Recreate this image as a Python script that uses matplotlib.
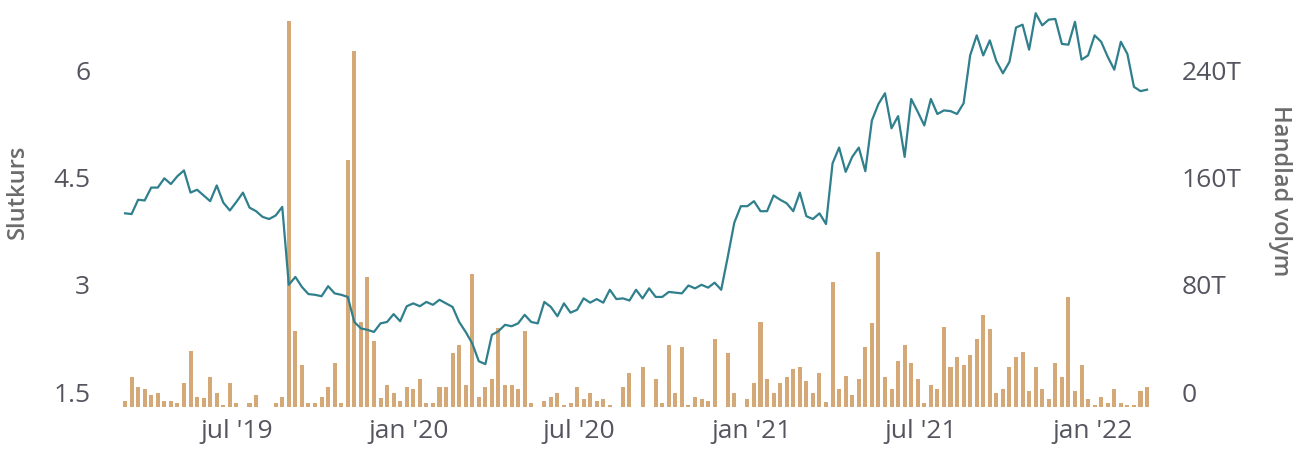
import numpy as np
import pandas as pd
import matplotlib
matplotlib.use('Agg')
import matplotlib.pyplot as plt
import matplotlib.transforms as mtransforms

# Weekly data, Mar 2019 - Feb 2022
weeks = pd.date_range('2019-03-04', periods=157, freq='7D')

# Closing price (Slutkurs)
slutkurs = [
    4.21, 4.20, 4.40, 4.39, 4.57, 4.57, 4.70, 4.62, 4.73, 4.81,
    4.50, 4.54, 4.46, 4.38, 4.60, 4.36, 4.25, 4.37, 4.50, 4.29,
    4.24, 4.16, 4.13, 4.18, 4.30, 3.21, 3.32, 3.18, 3.08, 3.07,
    3.05, 3.19, 3.09, 3.07, 3.04, 2.69, 2.60, 2.58, 2.55, 2.67,
    2.69, 2.80, 2.70, 2.91, 2.95, 2.91, 2.97, 2.93, 3.00, 2.95,
    2.90, 2.69, 2.55, 2.39, 2.14, 2.10, 2.51, 2.56, 2.65, 2.63,
    2.67, 2.79, 2.69, 2.67, 2.97, 2.90, 2.77, 2.95, 2.82, 2.86,
    3.02, 2.96, 3.01, 2.96, 3.14, 3.01, 3.02, 2.99, 3.14, 3.02,
    3.16, 3.04, 3.04, 3.11, 3.10, 3.09, 3.20, 3.16, 3.21, 3.17,
    3.24, 3.14, 3.60, 4.08, 4.31, 4.31, 4.38, 4.24, 4.24, 4.46,
    4.40, 4.35, 4.24, 4.50, 4.17, 4.13, 4.21, 4.06, 4.91, 5.13,
    4.79, 5.00, 5.13, 4.80, 5.51, 5.74, 5.89, 5.40, 5.57, 5.00,
    5.81, 5.63, 5.44, 5.81, 5.60, 5.65, 5.64, 5.60, 5.75, 6.42,
    6.70, 6.42, 6.63, 6.34, 6.17, 6.33, 6.81, 6.85, 6.50, 7.01,
    6.84, 6.92, 6.93, 6.58, 6.57, 6.89, 6.36, 6.42, 6.70, 6.61,
    6.40, 6.22, 6.61, 6.44, 5.98, 5.92, 5.94,
]

# Traded volume (Handlad volym), in thousands (T)
volym = [
    4.7, 22.6, 15.1, 13.4, 8.9, 10.7, 4.7, 4.7, 3.2, 18.1,
    42.0, 7.7, 6.5, 22.6, 10.7, 1.5, 18.1, 3.2, 0, 3.2,
    8.9, 0, 0, 3.2, 7.7, 288.4, 56.6, 31.3, 3.2, 3.2,
    7.7, 15.1, 33.0, 3.2, 184.1, 265.6, 63.6, 96.7, 49.2, 6.5,
    16.4, 10.7, 4.7, 14.9, 13.4, 20.9, 3.0, 3.0, 14.9, 14.9,
    40.2, 46.2, 16.4, 99.5, 7.5, 14.9, 20.9, 58.7, 16.4, 16.4,
    13.4, 56.6, 3.0, 0, 4.5, 7.5, 10.2, 1.5, 2.8, 15.1,
    6.0, 10.2, 4.7, 6.0, 1.5, 0, 15.1, 25.6, 0, 29.6,
    0, 21.1, 2.8, 46.2, 10.7, 44.5, 1.5, 7.7, 6.0, 4.7,
    50.7, 0, 40.0, 10.7, 0, 6.0, 17.7, 63.6, 20.9, 10.7,
    17.7, 22.6, 28.3, 29.6, 19.6, 10.7, 25.6, 3.5, 93.4, 13.4,
    23.5, 8.9, 20.9, 44.5, 62.4, 115.7, 22.1, 13.4, 34.3, 46.2,
    33.0, 20.9, 3.2, 16.4, 13.4, 59.4, 29.6, 37.0, 31.3, 38.8,
    50.7, 68.6, 57.9, 10.2, 13.4, 29.6, 37.0, 41.2, 11.9, 29.6,
    13.4, 5.7, 33.0, 22.6, 81.8, 11.9, 31.3, 5.7, 1.5, 7.7,
    3.2, 13.4, 3.2, 1.5, 1.5, 11.9, 15.1,
]

xtick_dates = pd.to_datetime(['2019-07-01', '2020-01-01', '2020-07-01',
                              '2021-01-01', '2021-07-01', '2022-01-01'])
xtick_labels = ["jul '19", "jan '20", "jul '20", "jan '21", "jul '21", "jan '22"]
left_ticks = [1.5, 3, 4.5, 6]
left_labels = ['1.5', '3', '4.5', '6']
right_ticks = [0, 80, 160, 240]
right_labels = ['0', '80T', '160T', '240T']

line_color = '#2f7f8d'
bar_color = '#d4a877'
label_color = '#555560'
title_color = '#6b6b6b'
font = 'Open Sans'

fig = plt.figure(figsize=(13.04, 4.54), dpi=100)
ax = fig.add_axes([118 / 1304, 1 - 407 / 454, (1155 - 118) / 1304, (407 - 5) / 454])
ax2 = ax.twinx()

# bars on the right axis, line on top
ax2.bar(weeks, volym, width=4.3, color=bar_color, linewidth=0)
ax.plot(weeks, slutkurs, color=line_color, linewidth=1.6)
ax.set_zorder(ax2.get_zorder() + 1)
ax.patch.set_visible(False)

ax2.set_ylim(0, 300)
ax.set_ylim(1.5, 1.5 + 300 * 1.5 / 80)
ax.set_xlim(weeks[0] - pd.Timedelta(days=7.5), weeks[-1] + pd.Timedelta(days=8.5))

for a in (ax, ax2):
    for s in a.spines.values():
        s.set_visible(False)
    a.tick_params(length=0)

ax.set_xticks(xtick_dates)
ax.set_xticklabels(xtick_labels, fontsize=19, color=label_color, family=font)
ax.tick_params(axis='x', pad=9)

ax.set_yticks(left_ticks)
ax.set_yticklabels(left_labels, fontsize=19, color=label_color, family=font)
ax.tick_params(axis='y', pad=20)
ax2.set_yticks(right_ticks)
ax2.set_yticklabels(right_labels, fontsize=19, color=label_color, family=font)
ax2.tick_params(axis='y', pad=19)

# tick labels sit a bit above their value
shift = mtransforms.ScaledTranslation(0, 0.15, fig.dpi_scale_trans)
for t in ax.yaxis.get_major_ticks() + ax2.yaxis.get_major_ticks():
    t.label1.set_transform(t.label1.get_transform() + shift)
    t.label2.set_transform(t.label2.get_transform() + shift)

fig.text(18 / 1304, 1 - 192 / 454, 'Slutkurs', rotation=90, ha='center', va='center',
         fontsize=17, fontweight='semibold', color=title_color, family=font)
fig.text(1280 / 1304, 1 - 191 / 454, 'Handlad volym', rotation=270, ha='center', va='center',
         fontsize=17, fontweight='semibold', color=title_color, family=font)

fig.savefig('out.png', dpi=100)
